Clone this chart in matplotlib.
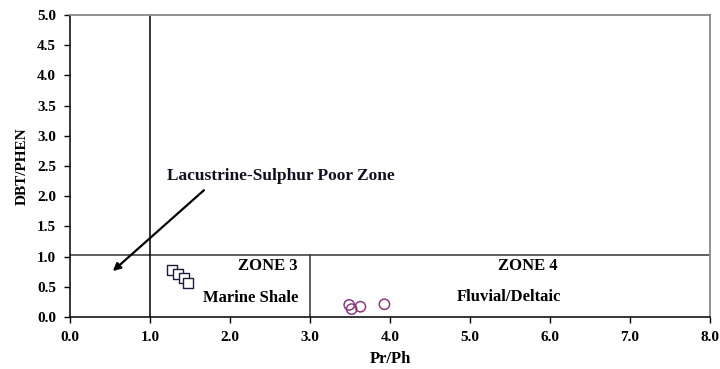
import numpy as np
import matplotlib.pyplot as plt

plt.rcParams['font.family'] = ['Liberation Serif', 'DejaVu Serif']
plt.rcParams['font.weight'] = 'bold'

# marine shale samples (squares)
shale_x = [1.28, 1.35, 1.42, 1.48]
shale_y = [0.78, 0.72, 0.64, 0.57]

# fluvial/deltaic samples (circles)
fluv_x = [3.49, 3.52, 3.63, 3.93]
fluv_y = [0.20, 0.13, 0.17, 0.21]

x_ticks = np.arange(0, 8.1, 1.0)
y_ticks = np.arange(0, 5.1, 0.5)

fig = plt.figure(figsize=(7.2, 3.69), dpi=100)
ax = fig.add_axes([0.0972, 0.141, 0.889, 0.818])

# zone boundaries
ax.plot([0, 8], [1.02, 1.02], color="#333333", lw=1.1)
ax.plot([1.0, 1.0], [0, 5], color="black", lw=1.1)
ax.plot([3.0, 3.0], [0, 1.02], color="#333333", lw=1.1)

ax.scatter(shale_x, shale_y, marker="s", s=48, facecolors="white",
           edgecolors="#1c1c3c", linewidths=1.0, zorder=3)
ax.scatter(fluv_x, fluv_y, marker="o", s=55, facecolors="none",
           edgecolors="#8a3a80", linewidths=1.1, zorder=3)

ax.annotate("", xy=(0.51, 0.73), xytext=(1.70, 2.13),
            arrowprops=dict(arrowstyle="-|>", color="black", lw=1.6,
                            mutation_scale=11))
ax.text(1.21, 2.34, "Lacustrine-Sulphur Poor Zone", fontsize=12.5,
        fontweight="bold", va="center", ha="left", color="#111122")
ax.text(2.84, 0.84, "ZONE 3", fontsize=12, fontweight="bold",
        ha="right", va="center")
ax.text(2.86, 0.32, "Marine Shale", fontsize=12, fontweight="bold",
        ha="right", va="center")
ax.text(5.72, 0.84, "ZONE 4", fontsize=12, fontweight="bold",
        ha="center", va="center")
ax.text(5.49, 0.33, "Fluvial/Deltaic", fontsize=12, fontweight="bold",
        ha="center", va="center")

ax.set_xlim(0, 8)
ax.set_ylim(0, 5)
ax.set_xticks(x_ticks)
ax.set_yticks(y_ticks)
ax.set_xticklabels(["%.1f" % v for v in x_ticks])
ax.set_yticklabels(["%.1f" % v for v in y_ticks])
ax.tick_params(direction="out", length=4, width=1, labelsize=11, pad=6)
for lab in ax.get_xticklabels() + ax.get_yticklabels():
    lab.set_fontweight("bold")

for s in ["left", "bottom"]:
    ax.spines[s].set_color("black")
    ax.spines[s].set_linewidth(1.1)
for s in ["top", "right"]:
    ax.spines[s].set_color("#888888")
    ax.spines[s].set_linewidth(1.3)

ax.set_xlabel("Pr/Ph", fontsize=12, fontweight="bold", labelpad=5)
ax.set_ylabel("DBT/PHEN", fontsize=11, fontweight="bold", labelpad=6)

plt.savefig("out.png", dpi=100)
